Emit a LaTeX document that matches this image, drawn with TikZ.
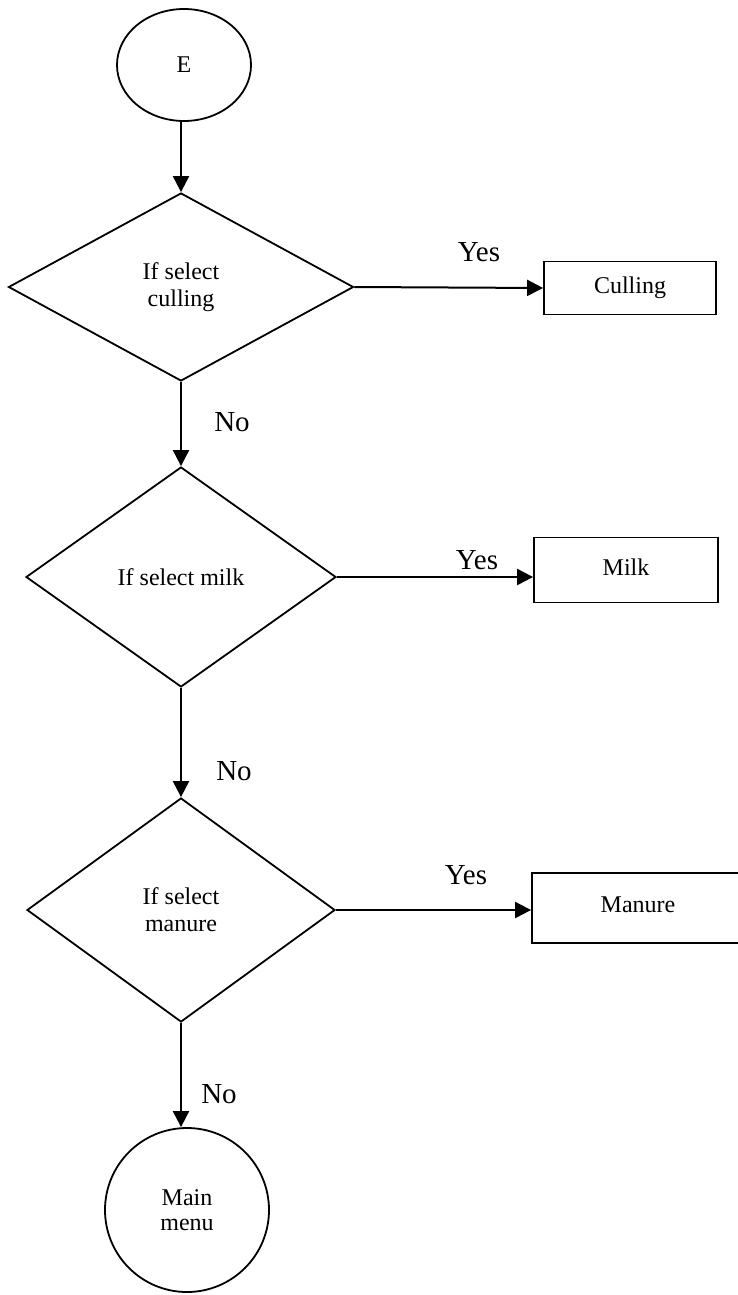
\documentclass[tikz,border=0pt]{standalone}
\usepackage{fontspec}
\setmainfont{Liberation Serif}
\usetikzlibrary{shapes.geometric,arrows.meta}
\begin{document}
\begin{tikzpicture}[x=1pt,y=-1pt,
  line width=1.8pt,
  flow/.style={draw=black,line width=2pt,-{Triangle[length=16pt,width=16pt]}},
  decision/.style={draw,diamond,inner sep=0pt,align=center,font=\fontsize{24}{27}\selectfont},
  action/.style={draw,rectangle,inner sep=0pt,font=\fontsize{24}{27}\selectfont},
  terminal/.style={draw,inner sep=0pt,align=center},
  answer/.style={font=\fontsize{29}{32}\selectfont,inner sep=0pt}]
\clip (0,0) rectangle (738,1295);
\fill[white] (0,0) rectangle (738,1295);

% start and end points
\node[terminal,ellipse,minimum width=134pt,minimum height=112pt,font=\fontsize{24}{26}\selectfont] (E) at (184,65) {E};
\node[terminal,circle,minimum size=164pt,font=\fontsize{24}{25}\selectfont] (main) at (187,1210) {Main\\menu};

% decisions
\node[decision,minimum width=345pt,minimum height=188pt] (d1) at (181,287) {If select\\culling};
\node[decision,minimum width=310pt,minimum height=220pt] (d2) at (181,577) {If select milk};
\node[decision,minimum width=308pt,minimum height=224pt] (d3) at (181,910) {If select\\manure};

% actions
\node[action,minimum width=172pt,minimum height=53pt] (cull) at (630,288) {Culling};
\node[action,minimum width=184pt,minimum height=65pt] (milk) at (626,570) {\raisebox{5pt}{Milk}};
\node[action,minimum width=230pt,minimum height=70pt] (manure) at (647,908) {\hspace*{-18pt}\raisebox{6pt}{Manure}};

% connectors
\draw[flow] (d1.north |- E.south) -- (d1.north);
\draw[flow] (d1.south) -- (d2.north);
\draw[flow] (d2.south) -- (d3.north);
\draw[flow] (d3.south) -- (d3.south |- main.north);
\draw[flow] (d1.east) -- (cull.west);
\draw[flow] (d2.east) -- (d2.east -| milk.west);
\draw[flow] (d3.east) -- (d3.east -| manure.west);

% branch labels
\node[answer] (y1) at (479,252) {Yes};
\node[answer] (y2) at (477,560) {Yes};
\node[answer] (y3) at (466,875) {Yes};
\node[answer] (n1) at (232,422) {No};
\node[answer] (n2) at (234,771) {No};
\node[answer] (n3) at (219,1094) {No};
\end{tikzpicture}
\end{document}
